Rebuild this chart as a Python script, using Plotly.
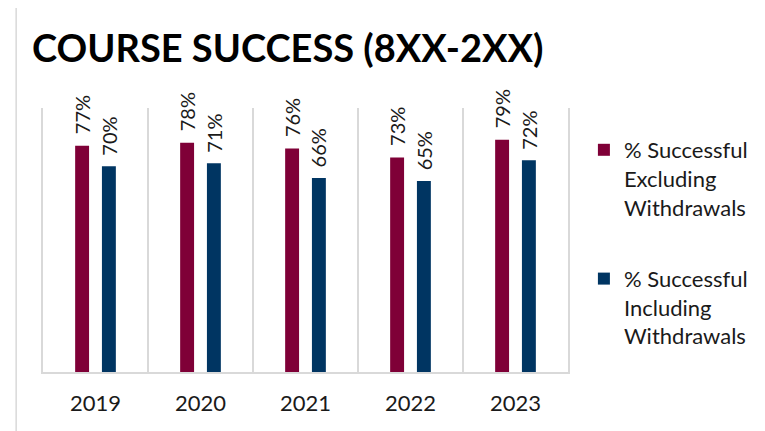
import plotly.graph_objects as go

years = ["2019", "2020", "2021", "2022", "2023"]
excl = [0.77, 0.78, 0.76, 0.73, 0.79]
incl = [0.70, 0.71, 0.66, 0.65, 0.72]
names = ["% Successful<br>Excluding<br>Withdrawals", "% Successful<br>Including<br>Withdrawals"]
colors = ["#7f0037", "#003562"]

# page body has an 8px margin, so the figure is drawn 8px smaller and offset
W, H = 757, 423
ML, MR, MT, MB = 35, 194, 100, 59
PW, PH = W - ML - MR, H - MT - MB
BARGAP, BARGROUPGAP = 0.49, 0.48
FONT = "Lato"
TXT = "#1a1a1a"
GRID = "#d9d9d9"

fig = go.Figure()
for i, (vals, nm, col) in enumerate(zip([excl, incl], names, colors)):
    fig.add_trace(go.Bar(x=years, y=vals, name=nm, marker_color=col,
                         marker_line_width=0, legendgroup=f"g{i}"))

# data labels above bars (rotated)
cat_w = PW / len(years)
slot = cat_w * (1 - BARGAP) / 2
for i, vals in enumerate([excl, incl]):
    for j, v in enumerate(vals):
        fig.add_annotation(x=j, y=v, text=f"{round(v*100)}%", showarrow=False,
                           textangle=-90, xanchor="center", yanchor="bottom",
                           xshift=(i - 0.5) * slot, yshift=9,
                           font=dict(family=FONT, size=20, color=TXT))

# outer chart border (left edge visible)
fig.add_shape(type="line", xref="paper", yref="paper",
              x0=(8 - ML) / PW, x1=(8 - ML) / PW,
              y0=(H - MB - (H + 20)) / PH, y1=(H - MB + 10) / PH,
              line=dict(color=GRID, width=1.5), layer="below")

fig.update_layout(
    width=W, height=H,
    margin=dict(l=ML, r=MR, t=MT, b=MB),
    paper_bgcolor="white", plot_bgcolor="white",
    barmode="group", bargap=BARGAP, bargroupgap=BARGROUPGAP,
    title=dict(text="<b>COURSE SUCCESS (8XX-2XX)</b>", xref="container", yref="container",
               x=24 / W, xanchor="left", y=1 - 41 / H, yanchor="middle",
               font=dict(family=FONT, size=38, color="#000000")),
    legend=dict(x=(579 - ML) / PW, xanchor="left", y=(H - MB - 121) / PH, yanchor="top",
                valign="top", tracegroupgap=40,
                font=dict(family=FONT, size=22, color=TXT), bgcolor="rgba(0,0,0,0)"),
    showlegend=True,
)
fig.update_xaxes(type="category", range=[-0.5, len(years) - 0.5], autorange=False,
                 tickson="boundaries", showgrid=True, gridcolor=GRID, gridwidth=1.5,
                 showline=True, linecolor=GRID, linewidth=1.5, ticks="", ticklabelstandoff=11,
                 tickangle=0, tickfont=dict(family=FONT, size=22, color=TXT))
fig.update_yaxes(range=[0, 0.898], autorange=False, showgrid=False, zeroline=False,
                 showticklabels=False, showline=True, mirror=True, linecolor=GRID,
                 linewidth=1.5, ticks="")

fig.write_html("out.html")
